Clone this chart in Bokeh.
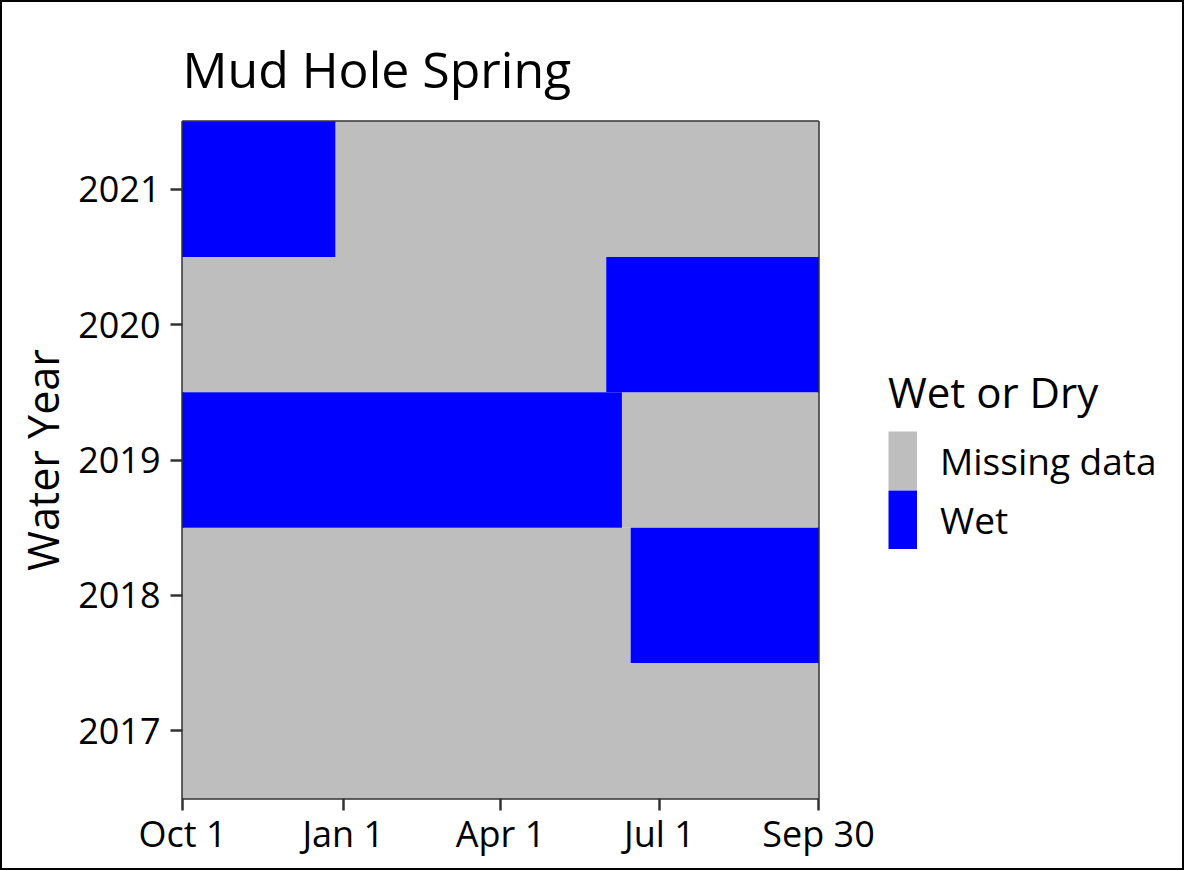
from bokeh.plotting import figure
from bokeh.layouts import row
from bokeh.models import (ColumnDataSource, Range1d, FixedTicker, Legend, LegendItem)
from bokeh.embed import file_html
from bokeh.resources import INLINE

# ---- data: runs of days (day of water year, Oct 1 = 1) per water year ----
seg_year = [2021, 2021, 2020, 2020, 2019, 2019, 2018, 2018, 2017]
seg_start = [1, 89, 1, 244, 1, 253, 1, 258, 1]
seg_end = [88, 365, 243, 365, 252, 365, 257, 365, 365]
seg_status = ["Wet", "Missing data", "Missing data", "Wet", "Wet",
              "Missing data", "Missing data", "Wet", "Missing data"]

years = [2017, 2018, 2019, 2020, 2021]
x_tick_days = [1, 93, 183, 274, 365]
x_tick_labels = ["Oct 1", "Jan 1", "Apr 1", "Jul 1", "Sep 30"]
status_levels = ["Missing data", "Wet"]
status_colors = ["#BEBEBE", "#0000FF"]

FONT = "Open Sans"
CW, CH = 1180, 866        # total canvas size (a 2px css border is drawn around it)
FL, FR, FT, FB = 180, 816, 119, 796   # frame edges in canvas coords
PW = 884                  # width of the main figure; the legend figure takes the rest

p = figure(width=PW, height=CH, output_backend="svg", toolbar_location=None,
           x_range=Range1d(1, 365), y_range=Range1d(2016.5, 2021.5),
           min_border_left=FL, min_border_right=PW - FR,
           min_border_top=FT, min_border_bottom=CH - FB,
           background_fill_color="white", border_fill_color="white")

for lvl, col in zip(status_levels, status_colors):
    idx = [i for i, s in enumerate(seg_status) if s == lvl]
    src = ColumnDataSource(dict(
        y=[seg_year[i] for i in idx],
        left=[seg_start[i] - 0.5 for i in idx],
        right=[seg_end[i] + 0.5 for i in idx],
    ))
    p.hbar(y="y", left="left", right="right", height=1.0, source=src,
           fill_color=col, line_color=None)

# title
p.title.text = "Mud Hole Spring"
p.title.text_font = FONT
p.title.text_font_size = "50px"
p.title.text_font_style = "normal"
p.title.text_color = "black"
p.title.align = "left"
p.title.standoff = 38

p.xgrid.visible = False
p.ygrid.visible = False

# panel border
p.outline_line_color = "#333333"
p.outline_line_width = 2.5
p.outline_line_alpha = 1.0

for ax in (p.xaxis[0], p.yaxis[0]):
    ax.axis_line_color = None
    ax.major_tick_line_color = "#333333"
    ax.major_tick_line_width = 2.5
    ax.major_tick_out = 12
    ax.major_tick_in = 0
    ax.minor_tick_line_color = None
    ax.major_label_text_font = FONT
    ax.major_label_text_font_size = "36px"
    ax.major_label_text_color = "black"
    ax.axis_label_text_font = FONT
    ax.axis_label_text_font_size = "43px"
    ax.axis_label_text_font_style = "normal"
    ax.axis_label_text_color = "black"

p.xaxis[0].ticker = FixedTicker(ticks=x_tick_days)
p.xaxis[0].major_label_overrides = {d: l for d, l in zip(x_tick_days, x_tick_labels)}
p.xaxis[0].major_label_standoff = -2

p.yaxis[0].ticker = FixedTicker(ticks=years)
p.yaxis[0].major_label_overrides = {y: str(y) for y in years}
p.yaxis[0].major_label_standoff = 10
p.yaxis[0].axis_label = "Water Year"
p.yaxis[0].axis_label_standoff = 3

# ---- legend panel (second figure, to the right of the main one) ----
q = figure(width=CW - PW, height=CH, output_backend="svg", toolbar_location=None,
           x_axis_location=None, y_axis_location=None,
           x_range=Range1d(0, 1), y_range=Range1d(0, 1),
           min_border_left=0, min_border_right=0, min_border_top=0, min_border_bottom=0,
           background_fill_color="white", border_fill_color="white")
q.xgrid.visible = False
q.ygrid.visible = False
q.outline_line_color = None

KEY_W, KEY_H = 29, 59
items = []
for lvl, col in zip(status_levels, status_colors):
    # legend key proxy: a thick line swatch, kept outside the visible range
    key = q.line(x=[-5, -4], y=[-5, -5], line_color=col, line_width=KEY_H,
                 line_cap="butt")
    items.append(LegendItem(label=lvl, renderers=[key]))

leg = Legend(items=items, location=(886 - PW, FB - 547), orientation="vertical")
leg.title = "Wet or Dry"
leg.title_text_font = FONT
leg.title_text_font_size = "42px"
leg.title_text_font_style = "normal"
leg.title_text_color = "black"
leg.title_standoff = 11
leg.label_text_font = FONT
leg.label_text_font_size = "37px"
leg.label_text_color = "black"
leg.label_standoff = 23
leg.glyph_width = KEY_W
leg.glyph_height = KEY_H
leg.label_height = KEY_H
leg.spacing = 0
leg.padding = 0
leg.margin = 0
leg.border_line_color = None
leg.background_fill_alpha = 0
q.add_layout(leg)

layout = row(p, q, spacing=0)
layout.styles = {"border": "2px solid #000000", "width": "fit-content"}

open("out.html", "w").write(file_html(layout, INLINE))
